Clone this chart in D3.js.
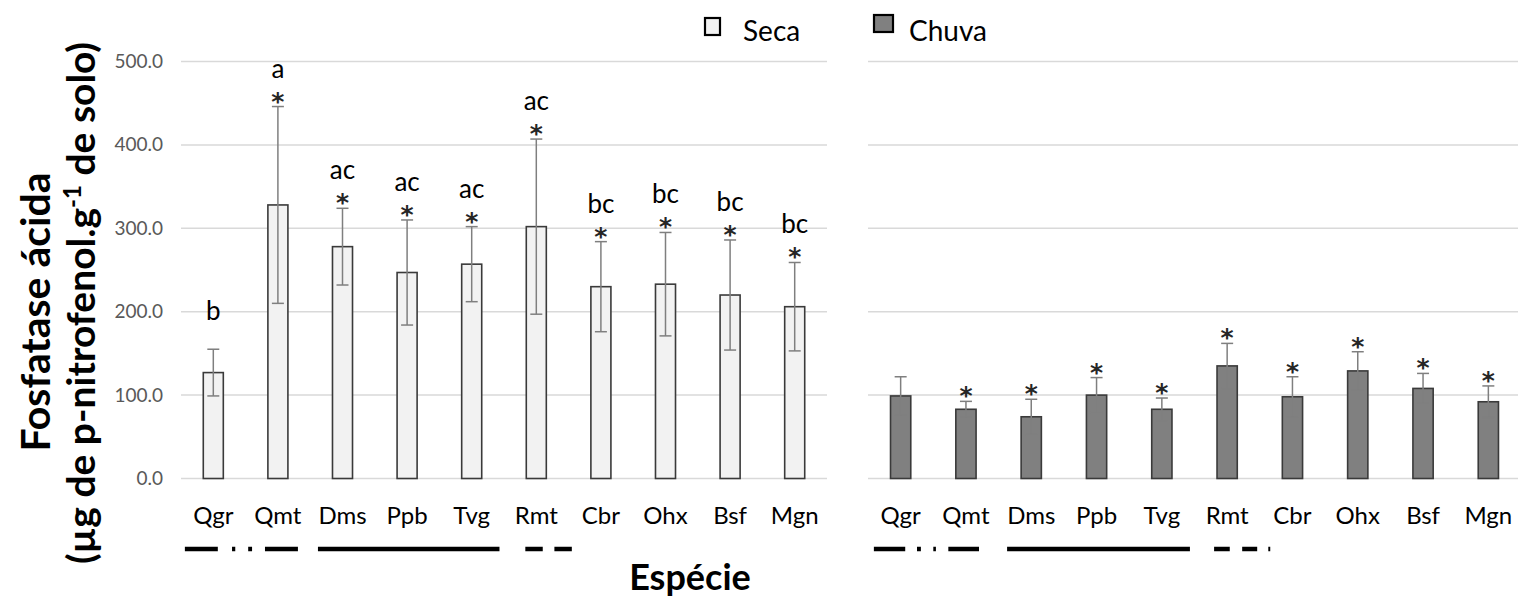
<!DOCTYPE html>
<html><head><meta charset="utf-8">
<script src="https://cdn.jsdelivr.net/npm/d3@7"></script>
<style>body{margin:0;background:#fff} svg{display:block} text{font-family:Lato,"Open Sans",sans-serif}</style>
</head><body><svg id="chart" width="1518" height="602"></svg>
<script>
const categories = ["Qgr","Qmt","Dms","Ppb","Tvg","Rmt","Cbr","Ohx","Bsf","Mgn"];
const secaValues = [127, 328, 278, 247, 257, 302, 230, 233, 220, 206];
const secaErrors = [28, 118, 46, 63, 45, 105, 54, 62, 66, 53];
const secaLetters = ["b","a","ac","ac","ac","ac","bc","bc","bc","bc"];
const secaStars = [false,true,true,true,true,true,true,true,true,true];
const chuvaValues = [99, 83, 74, 100, 83, 135, 98, 129, 108, 92];
const chuvaErrors = [23, 9.5, 21, 21, 13.5, 27, 24, 23, 18, 19];
const chuvaStars = [false,true,true,true,true,true,true,true,true,true];
const yTicks = [0, 100, 200, 300, 400, 500];
const secaMarks = [[0.06,0.57],[0.79,0.84],[1.04,1.10],[1.30,1.81],[2.12,4.93],[5.33,5.60],[5.78,6.05]];
const chuvaMarks = [[0.09,0.57],[0.75,0.81],[1.0,1.04],[1.23,1.70],[2.13,4.93],[5.30,5.54],[5.73,5.96],[6.13,6.16]];
const legendLabels = ["Seca","Chuva"];

const svg = d3.select("#chart");
const y = d3.scaleLinear().domain([0,500]).range([478.5,61.5]);

function panel(x0, x1, values, errors, stars, letters, fill, marks, showAxis) {
  const g = svg.append("g");
  const x = d3.scaleBand().domain(categories).range([x0,x1]).paddingInner(0.69).paddingOuter(0.345);
  const xu = d3.scaleLinear().domain([0, categories.length]).range([x0, x1]);
  g.selectAll("line.grid").data(yTicks).join("line")
    .attr("x1", x0).attr("x2", x1).attr("y1", d=>y(d)).attr("y2", d=>y(d))
    .attr("stroke", "#d9d9d9").attr("stroke-width", 1.5);
  if (showAxis) {
    const ax = d3.axisLeft(y).tickValues(yTicks).tickFormat(d3.format(".1f")).tickSize(0).tickPadding(0);
    const a = g.append("g").attr("transform", `translate(${x0-18},0)`).call(ax);
    a.select(".domain").remove();
    a.selectAll("text").attr("fill", "#595959").style("font-size","19px").style("font-family","Lato");
  }
  g.selectAll("rect.bar").data(values).join("rect")
    .attr("x", (d,i)=>x(categories[i])).attr("width", x.bandwidth())
    .attr("y", d=>y(d)).attr("height", d=>y(0)-y(d))
    .attr("fill", fill).attr("stroke", "#3a3a3a").attr("stroke-width", 1.6);
  const cx = i => x(categories[i]) + x.bandwidth()/2;
  const eg = g.append("g").attr("stroke", "#7f7f7f").attr("stroke-width", 1.5);
  values.forEach((v,i) => {
    const e = errors[i];
    eg.append("line").attr("x1", cx(i)).attr("x2", cx(i)).attr("y1", y(v+e)).attr("y2", y(v-e));
    eg.append("line").attr("x1", cx(i)-6).attr("x2", cx(i)+6).attr("y1", y(v+e)).attr("y2", y(v+e));
    eg.append("line").attr("x1", cx(i)-6).attr("x2", cx(i)+6).attr("y1", y(v-e)).attr("y2", y(v-e));
  });
  values.forEach((v,i) => {
    const top = y(v+errors[i]);
    if (stars[i]) g.append("text").attr("x", cx(i)).attr("y", top+3).attr("text-anchor","middle")
      .style("font-family","'DejaVu Sans'").style("font-weight","700").style("font-size","25px")
      .attr("fill","#262626").text("*");
    if (letters && letters[i]) g.append("text").attr("x", cx(i)).attr("y", top-29).attr("text-anchor","middle")
      .style("font-size","26px").attr("fill","#000").text(letters[i]);
  });
  const xa = d3.axisBottom(x).tickSize(0).tickPadding(0);
  const xg = g.append("g").attr("transform", `translate(0,${y(0)+28})`).call(xa);
  xg.select(".domain").remove();
  xg.selectAll("text").attr("fill","#000").style("font-size","24px").style("font-family","Lato");
  g.selectAll("line.mark").data(marks).join("line")
    .attr("x1", d=>xu(d[0])).attr("x2", d=>xu(d[1])).attr("y1", 549).attr("y2", 549)
    .attr("stroke", "#000").attr("stroke-width", 4.5);
}

panel(181, 827, secaValues, secaErrors, secaStars, secaLetters, "#f2f2f2", secaMarks, true);
panel(868, 1521, chuvaValues, chuvaErrors, chuvaStars, null, "#808080", chuvaMarks, false);

svg.append("text").attr("transform","translate(50,312) rotate(-90)").attr("text-anchor","middle")
  .style("font-size","41px").style("font-weight","700").text("Fosfatase ácida");
const t2 = svg.append("text").attr("transform","translate(95,303) rotate(-90)").attr("text-anchor","middle")
  .style("font-size","39px").style("font-weight","700");
t2.append("tspan").text("(µg de p-nitrofenol.g");
t2.append("tspan").attr("dy",-14).style("font-size","24px").text("-1");
t2.append("tspan").attr("dy",14).text(" de solo)");

svg.append("text").attr("x",690).attr("y",590).attr("text-anchor","middle")
  .style("font-size","36px").style("font-weight","700").text("Espécie");

const legendFill = ["#f2f2f2","#808080"];
const legendBox = [[705,18,15,17],[874,15,19,17]];
const legendTextX = [743, 909];
legendLabels.forEach((l,i) => {
  const b = legendBox[i];
  svg.append("rect").attr("x",b[0]).attr("y",b[1]).attr("width",b[2]).attr("height",b[3])
    .attr("fill",legendFill[i]).attr("stroke","#000").attr("stroke-width",2.2);
  svg.append("text").attr("x",legendTextX[i]).attr("y",41).style("font-size","28px").attr("fill","#000").text(l);
});
</script></body></html>
